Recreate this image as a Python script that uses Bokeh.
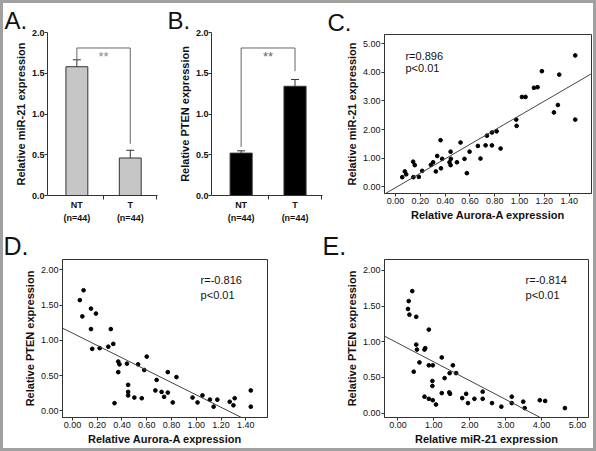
from bokeh.plotting import figure
from bokeh.layouts import row, column
from bokeh.models import (Range1d, FixedTicker, PrintfTickFormatter, Label, LinearAxis,
                          Whisker, TeeHead, ColumnDataSource)
from bokeh.core.properties import value
from bokeh.embed import file_html
from bokeh.resources import INLINE

FONT = "Liberation Sans"

# ---------------- data ----------------
groups = ["NT", "T"]
group_n = ["(n=44)", "(n=44)"]
mir21_mean = [1.58, 0.46]
mir21_sem = [0.085, 0.095]
pten_mean = [0.52, 1.34]
pten_sem = [0.028, 0.083]
a_bracket = [1.665, 1.81, 0.635]
b_bracket = [0.595, 1.81, 1.525]

c_aurora = [0.054, 0.075, 0.086, 0.142, 0.155, 0.144, 0.188, 0.215, 0.285, 0.303,
            0.325, 0.336, 0.363, 0.366, 0.376, 0.435, 0.444, 0.446, 0.444, 0.495,
            0.524, 0.556, 0.575, 0.597, 0.664, 0.685, 0.726, 0.737, 0.777, 0.777,
            0.815, 0.847, 0.973, 0.976, 1.019, 1.048, 1.116, 1.145, 1.18, 1.277,
            1.309, 1.32, 1.449, 1.449]
c_mir21 = [0.34, 0.54, 0.44, 0.88, 0.76, 0.34, 0.35, 0.56, 0.77, 0.86,
           0.54, 1.08, 1.63, 0.65, 0.98, 0.86, 1.23, 0.98, 0.76, 0.86,
           1.55, 0.98, 0.48, 1.23, 1.43, 0.99, 1.45, 1.79, 1.90, 1.45,
           1.94, 1.34, 2.35, 2.13, 3.14, 3.14, 3.46, 3.48, 4.04, 2.60,
           2.86, 3.92, 4.59, 2.35]
c_fit = (2.517, -0.026)

d_aurora = [0.06, 0.09, 0.08, 0.15, 0.19, 0.15, 0.16, 0.22, 0.29, 0.31,
            0.33, 0.34, 0.37, 0.38, 0.37, 0.44, 0.45, 0.45, 0.45, 0.50,
            0.53, 0.56, 0.58, 0.60, 0.67, 0.68, 0.72, 0.74, 0.77, 0.77,
            0.81, 0.84, 0.97, 1.01, 1.05, 1.11, 1.14, 1.17, 1.27, 1.30,
            1.31, 1.44, 1.44]
d_pten = [1.57, 1.71, 1.34, 1.45, 1.38, 1.16, 0.88, 0.89, 0.91, 1.16,
          0.95, 0.11, 0.70, 0.66, 0.55, 0.67, 0.37, 0.27, 0.22, 0.19,
          0.66, 0.18, 0.58, 0.77, 0.29, 0.44, 0.27, 0.20, 0.26, 0.55,
          0.12, 0.48, 0.19, 0.12, 0.22, 0.16, 0.06, 0.16, 0.13, 0.08,
          0.18, 0.29, 0.06]
d_fit = (-0.876, 1.103)

e_mir21 = [0.40, 0.30, 0.28, 0.32, 0.51, 0.86, 0.51, 0.53, 0.74, 0.76,
           0.60, 0.44, 0.86, 0.97, 0.96, 0.96, 0.74, 0.86, 0.97, 1.06,
           1.22, 1.30, 1.22, 1.43, 1.44, 1.53, 1.62, 1.45, 1.79, 1.90,
           1.95, 2.13, 2.36, 2.36, 2.62, 2.88, 3.17, 3.17, 3.49, 3.53,
           3.95, 4.10, 4.65]
e_pten = [1.71, 1.57, 1.46, 1.38, 1.35, 1.17, 0.96, 0.89, 0.89, 0.91,
          0.71, 0.58, 0.67, 0.67, 0.45, 0.38, 0.23, 0.20, 0.18, 0.12,
          0.78, 0.49, 0.28, 0.29, 0.56, 0.67, 0.56, 0.27, 0.21, 0.27,
          0.14, 0.20, 0.30, 0.20, 0.14, 0.09, 0.23, 0.14, 0.16, 0.07,
          0.18, 0.17, 0.07]
e_fit = (-0.263, 0.98)


def sx(v):
    return round(v - 3)


def sy(v):
    return round(v - 3)


def base_fig(box, frame, xr, yr, letter, lx, lsize, lstand):
    x0, x1, y0, y1 = box
    fl, fr, ft, fb = frame
    p = figure(width=sx(x1) - sx(x0), height=sy(y1) - sy(y0),
               x_range=Range1d(*xr), y_range=Range1d(*yr),
               output_backend="svg", toolbar_location=None,
               min_border_left=sx(fl) - sx(x0),
               min_border_right=max(1, sx(x1) - sx(fr)),
               min_border_top=sy(ft) - sy(y0),
               min_border_bottom=sy(y1) - sy(fb))
    p.grid.visible = False
    p.background_fill_color = "white"
    p.border_fill_color = "white"
    p.title.text = letter
    p.title.align = "left"
    p.title.vertical_align = "bottom"
    p.title.offset = sx(lx) - sx(fl)
    p.title.standoff = lstand
    p.title.text_font = FONT
    p.title.text_font_size = lsize
    p.title.text_font_style = "normal"
    p.title.text_color = "#111111"
    return p


def style_axis(ax, bold=False):
    ax.major_label_text_font = FONT
    ax.major_label_text_font_size = "9px"
    ax.major_label_text_font_style = "bold" if bold else "normal"
    ax.major_label_text_color = "#111111"
    ax.axis_label_text_font = FONT
    ax.axis_label_text_font_size = "11px"
    ax.axis_label_text_font_style = "bold"
    ax.axis_label_text_color = "#111111"
    ax.axis_line_color = "#333333"
    ax.major_tick_line_color = "#333333"
    ax.minor_tick_line_color = "#333333"
    ax.major_tick_out = 3
    ax.major_tick_in = 0
    ax.minor_tick_out = 0
    ax.minor_tick_in = 0
    ax.major_label_standoff = 1
    ax.axis_label_standoff = 2


def bar_panel(box, frame, means, sems, fill, ylabel, letter, lx, bracket, star_color):
    p = base_fig(box, frame, (0.45, 2.51), (0, 2.0), letter, lx, "24px", -3)
    p.outline_line_color = None
    xs = [i + 1 for i in range(len(groups))]
    src = ColumnDataSource(dict(x=xs, top=means,
                                upper=[m + s for m, s in zip(means, sems)]))
    p.vbar(x="x", top="top", bottom=0, width=0.41, source=src,
           fill_color=fill, line_color="#333333", line_width=1)
    p.add_layout(Whisker(source=src, base="x", lower="top", upper="upper",
                         line_color="#333333", line_width=1,
                         upper_head=TeeHead(size=8, line_color="#333333"),
                         lower_head=None))
    p.line(x=[xs[0], xs[0], xs[1], xs[1]],
           y=[bracket[0], bracket[1], bracket[1], bracket[2]],
           line_color="#666666", line_width=1)
    p.text(x=[(xs[0] + xs[1]) / 2], y=[bracket[1] - 0.01], text=["**"],
           text_align="center", text_baseline="top", text_font=value(FONT),
           text_font_size="13px", text_color=star_color)

    yax = p.yaxis[0]
    style_axis(yax, bold=True)
    yax.ticker = FixedTicker(ticks=[0, 0.5, 1.0, 1.5, 2.0])
    yax.formatter = PrintfTickFormatter(format="%.1f")
    yax.axis_label = ylabel
    yax.major_label_standoff = 0

    xax = p.xaxis[0]
    style_axis(xax, bold=True)
    xax.ticker = FixedTicker(ticks=xs, minor_ticks=[1.5, 2.5])
    xax.major_label_overrides = {x: g for x, g in zip(xs, groups)}
    xax.major_tick_out = 0
    xax.minor_tick_out = 4
    xax.major_label_standoff = 0

    nax = LinearAxis(ticker=FixedTicker(ticks=xs),
                     major_label_overrides={x: n for x, n in zip(xs, group_n)})
    style_axis(nax, bold=True)
    nax.axis_line_color = None
    nax.major_tick_line_color = None
    nax.major_tick_out = 0
    nax.major_label_standoff = 0
    p.add_layout(nax, "below")
    return p


def scatter_panel(box, frame, xr, yr, xs, ys, xticks, yticks, xlabel, ylabel,
                  fit, rtext, rpos, letter, lx, lsize, lstand):
    p = base_fig(box, frame, xr, yr, letter, lx, lsize, lstand)
    p.outline_line_color = "#333333"
    p.outline_line_width = 1
    p.scatter(xs, ys, size=3.7, color="black")
    xl = [xr[0], xr[1]]
    p.line(xl, [fit[1] + fit[0] * v for v in xl], line_color="#444444", line_width=1)

    xax = p.xaxis[0]
    style_axis(xax)
    xax.ticker = FixedTicker(ticks=xticks)
    xax.formatter = PrintfTickFormatter(format="%.2f")
    xax.axis_label = xlabel
    xax.major_label_standoff = 1
    xax.axis_label_standoff = 2

    yax = p.yaxis[0]
    style_axis(yax)
    yax.ticker = FixedTicker(ticks=yticks)
    yax.formatter = PrintfTickFormatter(format="%.2f")
    yax.axis_label = ylabel

    for t, (x, y) in zip(rtext, rpos):
        p.add_layout(Label(x=x, y=y, text=t, text_font=FONT, text_font_size="11px",
                           text_color="#111111", text_baseline="alphabetic"))
    return p


boxA, frA = (3, 163, 3, 225), (47.3, 157, 31.7, 200.3)
boxB, frB = (163, 325, 3, 225), (210.7, 321.7, 31.7, 200.3)
boxC, frC = (325, 593, 3, 225), (384, 591, 34, 193.3)
boxD, frD = (3, 300, 225, 448), (61.7, 267.3, 259, 417.3)
boxE, frE = (300, 593, 225, 448), (384.3, 587.7, 259, 416.7)

pA = bar_panel(boxA, frA, mir21_mean, mir21_sem, "#c6c6c6",
               "Relative miR-21 expression", "A.", 4, a_bracket, "#888888")
pB = bar_panel(boxB, frB, pten_mean, pten_sem, "#000000",
               "Relative PTEN expression", "B.", 167, b_bracket, "#666666")

pC = scatter_panel(boxC, frC, (-0.089, 1.58), (-0.23, 5.32), c_aurora, c_mir21,
                   [0, 0.2, 0.4, 0.6, 0.8, 1.0, 1.2, 1.4], [0, 1, 2, 3, 4, 5],
                   "Relative Aurora-A expression", "Relative miR-21 expression",
                   c_fit, ["r=0.896", "p<0.01"], [(0.08, 4.56), (0.08, 4.15)],
                   "C.", 327, "24px", -3)
pD = scatter_panel(boxD, frD, (-0.08, 1.575), (-0.093, 2.146), d_aurora, d_pten,
                   [0, 0.2, 0.4, 0.6, 0.8, 1.0, 1.2, 1.4], [0, 0.5, 1.0, 1.5, 2.0],
                   "Relative Aurora-A expression", "Relative PTEN expression",
                   d_fit, ["r=-0.816", "p<0.01"], [(1.035, 1.86), (1.035, 1.64)],
                   "D.", 3, "25px", 0)
pE = scatter_panel(boxE, frE, (-0.374, 5.307), (-0.062, 2.153), e_mir21, e_pten,
                   [0, 1, 2, 3, 4, 5], [0, 0.5, 1.0, 1.5, 2.0],
                   "Relative miR-21 expression", "Relative PTEN expression",
                   e_fit, ["r=-0.814", "p<0.01"], [(3.556, 1.87), (3.556, 1.65)],
                   "E.", 322, "25px", 0)

layout = column(row(column(pA), column(pB), column(pC)),
                row(column(pD), column(pE)),
                styles={"border": "3px solid #a0a0a0"})

open("out.html", "w").write(file_html(layout, INLINE))
